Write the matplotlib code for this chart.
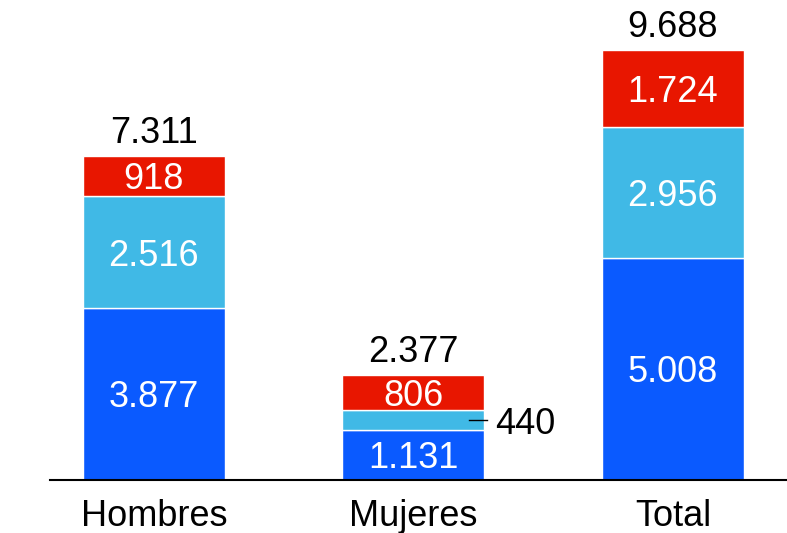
import matplotlib
matplotlib.use("Agg")
import matplotlib.pyplot as plt

categories = ["Hombres", "Mujeres", "Total"]
bottom_vals = [3877, 1131, 5008]
middle_vals = [2516, 440, 2956]
top_vals = [918, 806, 1724]
totals = [7311, 2377, 9688]


def fmt(v):
    return f"{v:,}".replace(",", ".")


plt.rcParams["font.family"] = ["Liberation Sans", "DejaVu Sans"]

fig = plt.figure(figsize=(7.87, 5.33), dpi=100)
ax = fig.add_axes([50 / 787, 53 / 533, 737 / 787, 480 / 533])

colors = ["#0A5AFF", "#40B9E6", "#E81600"]
x = list(range(len(categories)))
w = 0.547
bots = [0] * len(x)
for vals, col in zip([bottom_vals, middle_vals, top_vals], colors):
    ax.bar(x, vals, w, bottom=bots, color=col, edgecolor="white", linewidth=1)
    for i, v in enumerate(vals):
        mid = bots[i] + v / 2
        if v < 600:
            ax.plot([x[i] + w / 2 - 0.06, x[i] + w / 2 + 0.01], [mid, mid],
                    color="black", linewidth=1)
            ax.text(x[i] + w / 2 + 0.04, mid, fmt(v), ha="left",
                    va="center_baseline", fontsize=26, color="black")
        else:
            ax.text(x[i], mid, fmt(v), ha="center", va="center_baseline",
                    fontsize=26, color="white")
    bots = [b + v for b, v in zip(bots, vals)]

for i, t in enumerate(totals):
    ax.text(x[i], t + 110, fmt(t), ha="center", va="bottom", fontsize=26,
            color="black")

ax.set_xlim(-0.40, 2.44)
ax.set_ylim(0, 10818)
ax.set_xticks(x)
ax.set_xticklabels(categories, fontsize=26)
ax.tick_params(axis="x", length=0, pad=14)
ax.set_yticks([])
for s in ["top", "right", "left"]:
    ax.spines[s].set_visible(False)
ax.spines["bottom"].set_linewidth(1.5)

fig.savefig("out.png", dpi=100)
